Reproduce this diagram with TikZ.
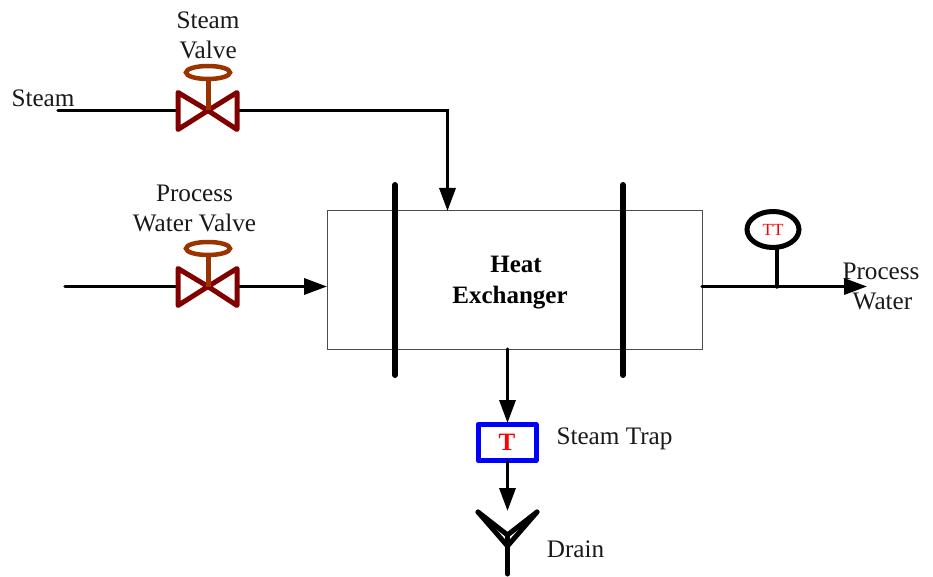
\documentclass[tikz,border=0pt]{standalone}
\usepackage{fontspec}
\setmainfont{Liberation Serif}
\usetikzlibrary{arrows.meta,shapes.geometric}
\definecolor{valvered}{RGB}{128,0,0}
\definecolor{valvebrown}{RGB}{153,51,0}
\tikzset{
  pipe/.style={draw=black,line width=3.4pt,line cap=round},
  flow/.style={pipe,-{Triangle[length=23pt,width=16pt]}},
  label/.style={font=\fontsize{25.2pt}{30pt}\selectfont,align=center,text=black!90,inner sep=0pt},
  boldlabel/.style={label,font=\fontsize{25pt}{31pt}\selectfont\bfseries,text=black},
  bar/.style={draw=black,line width=6pt,line cap=round},
  valvebody/.style={draw=valvered,line width=5pt,line join=round},
  valvestem/.style={draw=valvebrown,line width=5pt},
  valveknob/.style={draw=valvebrown,line width=4.5pt,ellipse,minimum width=44pt,minimum height=13pt,inner sep=0pt},
}
\begin{document}
\begin{tikzpicture}[x=1pt,y=-1pt]
\useasboundingbox (0,0) rectangle (933,577);
% heat exchanger
\node[draw=black!70,line width=1pt,minimum width=375pt,minimum height=138pt,inner sep=0pt] (hx) at (514.5,280) {};
\node[boldlabel] (hxlabel) at (510,283) {\hspace*{12pt}Heat\\Exchanger};
\coordinate (b1t) at (395,185); \coordinate (b1b) at (395,375);
\coordinate (b2t) at (623,185); \coordinate (b2b) at (623,375);
\draw[bar] (b1t) -- (b1b);
\draw[bar] (b2t) -- (b2b);
% steam line
\coordinate (steamin) at (58,110.5);
\coordinate (sv) at (208,110.5);
\coordinate (svl) at (178,110.5);
\coordinate (svr) at (238,110.5);
\coordinate (corner) at (447.5,110.5);
\coordinate (hxtop) at (447.5,211);
\draw[pipe] (steamin) -- (svl);
\draw[flow] (svr) -- (corner) -- (hxtop);
% process water line
\coordinate (pwin) at (65,286.5);
\coordinate (pv) at (208,286.5);
\coordinate (pvl) at (178,286.5);
\coordinate (pvr) at (238,286.5);
\coordinate (hxleft) at (327,286.5);
\draw[pipe] (pwin) -- (pvl);
\draw[flow] (pvr) -- (hxleft);
% valves
\foreach \v/\c in {sv/sk,pv/pk}{
  \path (\v) ++(-30,-18) coordinate (\v a) ++(0,37) coordinate (\v b);
  \path (\v) ++(29,-18) coordinate (\v c) ++(0,37) coordinate (\v d);
  \draw[valvebody] (\v) -- (\v a) -- (\v b) -- cycle;
  \draw[valvebody] (\v) -- (\v c) -- (\v d) -- cycle;
  \path (\v) ++(0,-38) node[valveknob] (\c) {};
  \draw[valvestem] (\v) -- (\c.south);
}
% outlet
\coordinate (hxright) at (702,286.5);
\coordinate (out) at (867,286.5);
\coordinate (tap) at (777,286.5);
\draw[flow] (hxright) -- (out);
\node[draw=black,line width=5pt,ellipse,minimum width=52pt,minimum height=36pt,inner sep=0pt,
      text=red,font=\fontsize{17pt}{20pt}\selectfont] (tt) at (773,229.5) {TT};
\coordinate (ttfoot) at (777,247);
\draw[pipe,line width=4.5pt] (tap) -- (ttfoot);
% trap
\node[draw=blue,line width=5pt,line join=round,minimum width=58pt,minimum height=36pt,inner sep=0pt,
      text=red,font=\fontsize{25pt}{28pt}\selectfont\bfseries] (trap) at (507,442.5) {\raisebox{-3pt}{T}};
\coordinate (hxbot) at (507.5,349);
\coordinate (trapin) at (507.5,423);
\coordinate (trapout) at (507.5,462);
\coordinate (drainin) at (507.5,511);
\draw[flow] (hxbot) -- (trapin);
\draw[flow] (trapout) -- (drainin);
% drain
\coordinate (dl) at (478,512); \coordinate (dr) at (537,512);
\coordinate (dc) at (507.5,535); \coordinate (dj) at (507.5,546); \coordinate (dend) at (507.5,574);
\draw[pipe,line width=5pt] (dl) -- (dc) -- (dr);
\draw[pipe,line width=5pt] (dl) -- (dj) -- (dr);
\draw[pipe,line width=5pt] (dc) -- (dend);
% labels
\node[label] (l1) at (208,35) {Steam\\Valve};
\node[label] (l2) at (43,98.5) {Steam};
\node[label] (l3) at (194.5,208) {Process\\Water Valve};
\node[label] (l4) at (881,286.5) {Process\\\hspace*{3pt}Water};
\node[label] (l5) at (614.5,439) {Steam Trap};
\node[label] (l6) at (575.5,549.5) {Drain};
\end{tikzpicture}
\end{document}
